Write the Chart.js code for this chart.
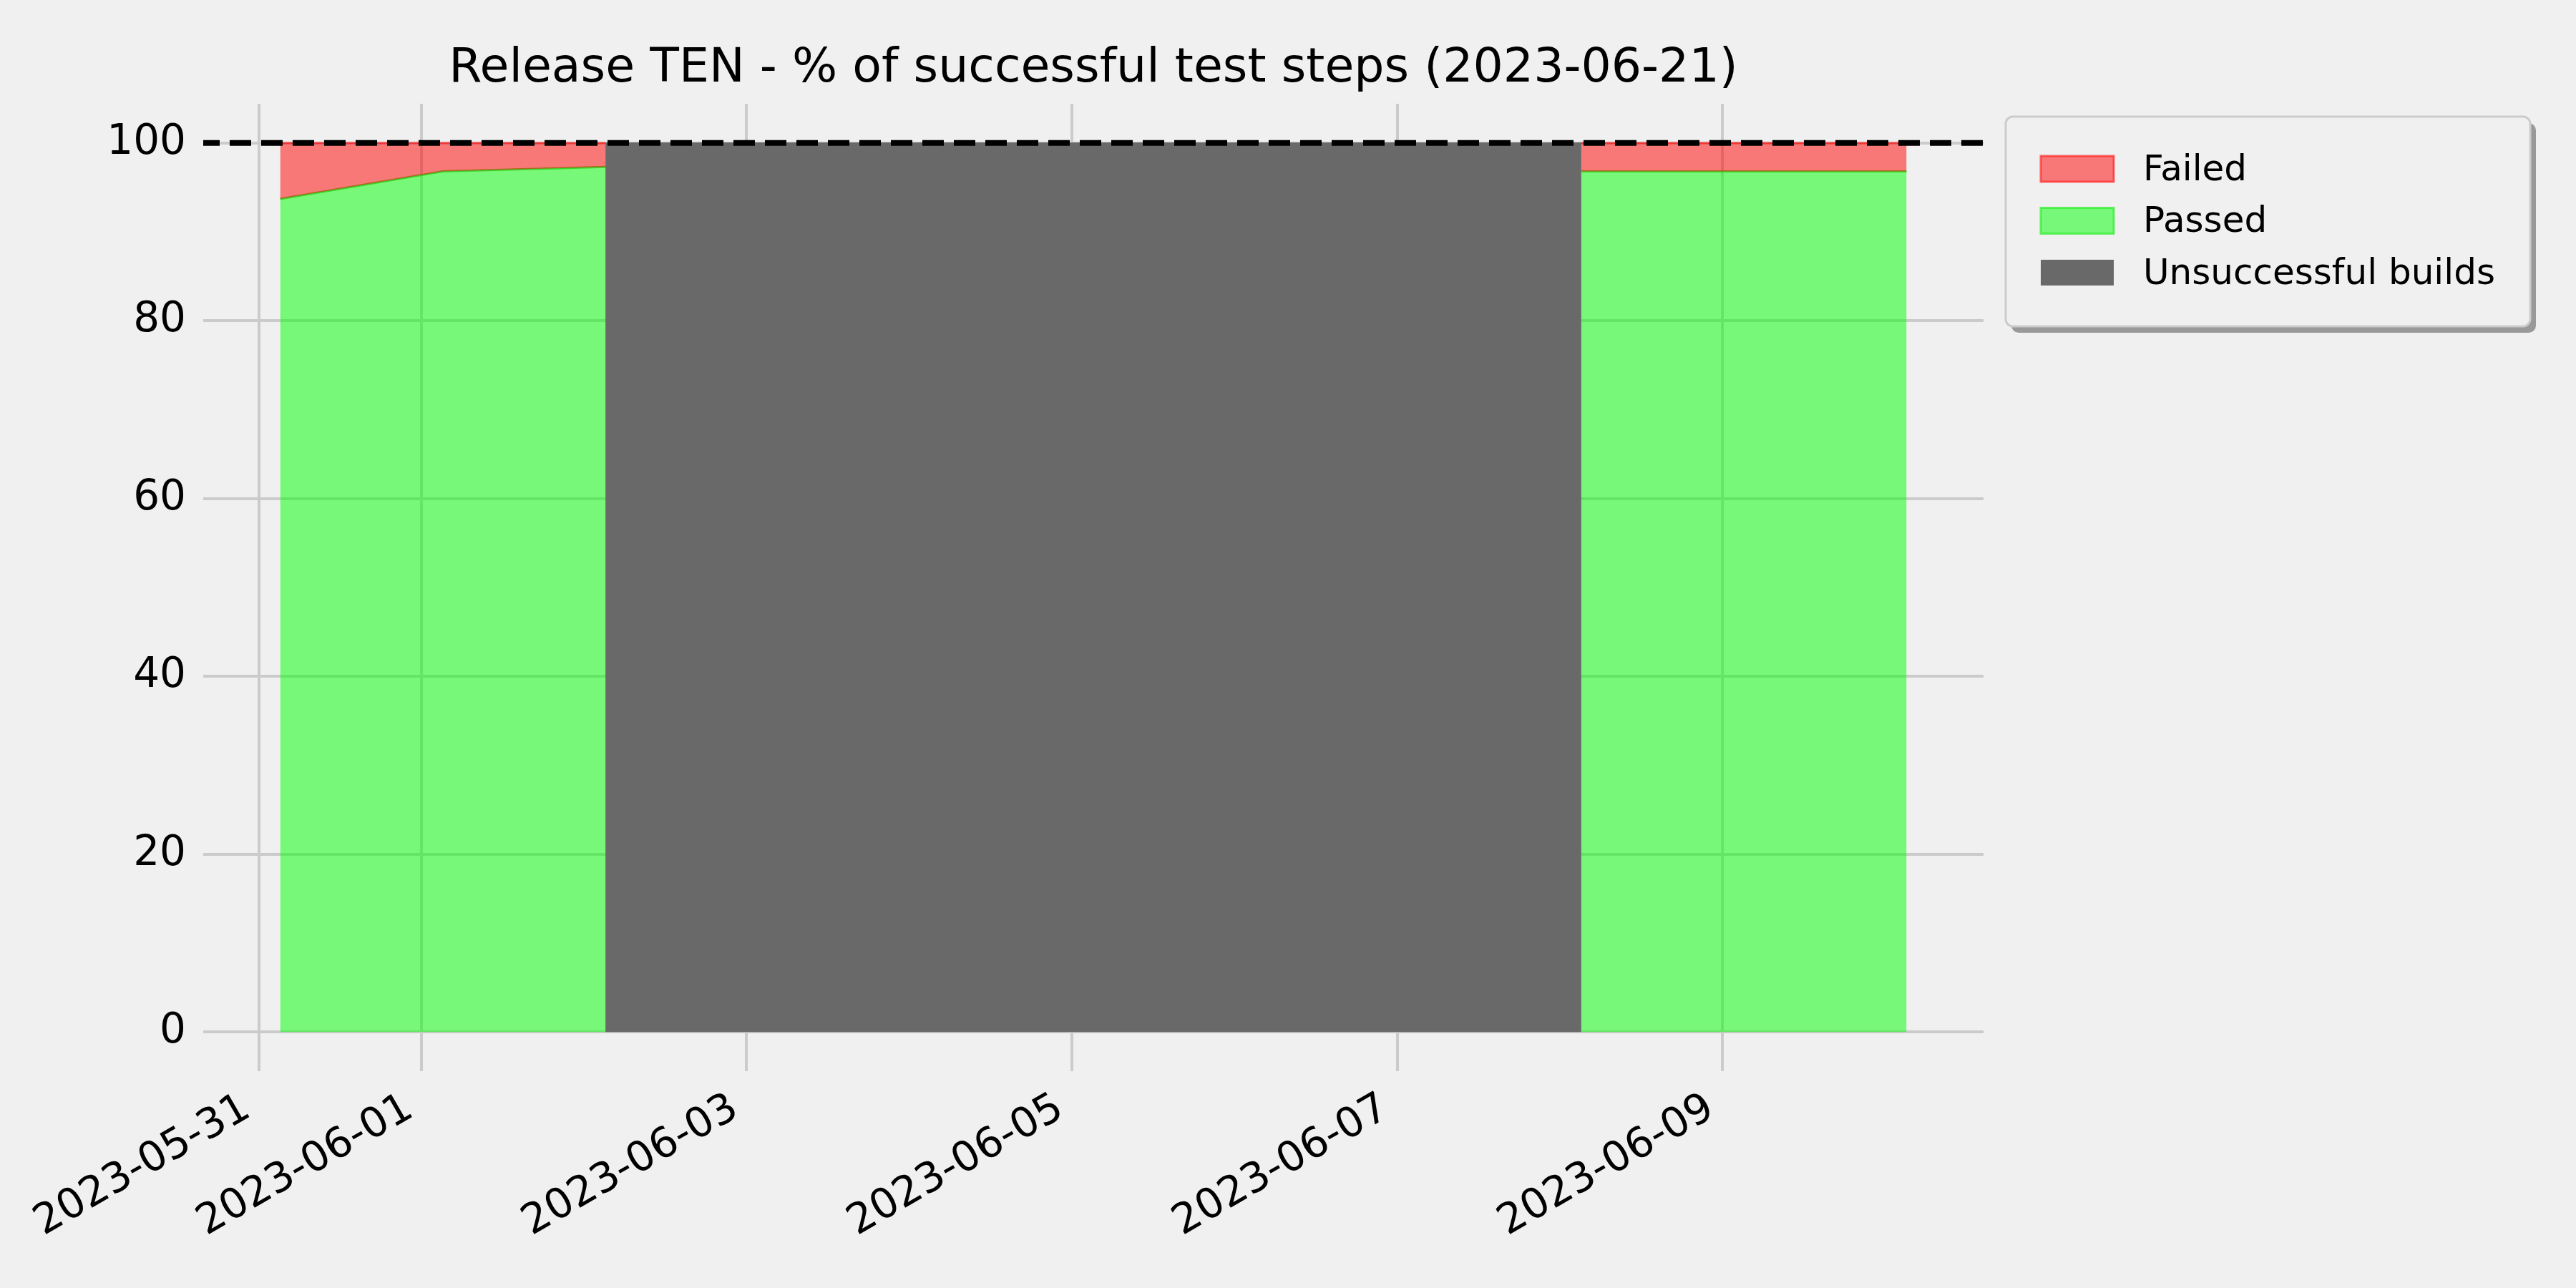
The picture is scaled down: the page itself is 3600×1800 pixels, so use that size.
<!DOCTYPE html>
<html>
<head>
<meta charset="utf-8">
<script src="https://cdn.jsdelivr.net/npm/chart.js@4.4.0/dist/chart.umd.min.js"></script>
<style>
  html, body { margin: 0; padding: 0; background: #f0f0f0; }
</style>
</head>
<body>
<canvas id="chart" width="3600" height="1800"></canvas>
<script>
// one build per day, around 03:10
const buildDates = [
  "2023-05-31T03:10", "2023-06-01T03:10", "2023-06-02T03:10", "2023-06-03T03:10",
  "2023-06-04T03:10", "2023-06-05T03:10", "2023-06-06T03:10", "2023-06-07T03:10",
  "2023-06-08T03:10", "2023-06-09T03:10", "2023-06-10T03:10"
];
const passed = [93.7, 96.8, 97.3, null, null, null, null, null, 96.8, 96.8, 96.8];
const failed = [6.3, 3.2, 2.7, null, null, null, null, null, 3.2, 3.2, 3.2];
const unsuccessful = [null, null, 100, 100, 100, 100, 100, 100, 100, null, null];

const xTickLabels = ["2023-05-31", "2023-06-01", "2023-06-03", "2023-06-05", "2023-06-07", "2023-06-09"];
const yTickValues = [0, 20, 40, 60, 80, 100];
const targetLine = 100;
const xRange = ["2023-05-30T15:49", "2023-06-10T14:31"];
const yRange = [-4.4, 104.4];

const FONT = "DejaVu Sans";
const toMs = s => Date.parse(s + ":00Z");
const xTickMs = xTickLabels.map(l => toMs(l + "T00:00"));
const xMin = toMs(xRange[0]);
const xMax = toMs(xRange[1]);

const pts = vals => buildDates.map((d, i) => ({ x: toMs(d), y: vals[i] }));
const failedTop = passed.map((p, i) => (p == null ? null : p + failed[i]));

// legend with frame and shadow, drawn to the right of the plot
const legendBox = {
  id: "legendBox",
  afterDraw(chart) {
    const ctx = chart.ctx;
    const area = chart.chartArea;
    const left = area.right + 31, top = area.top + 18, w = 733, h = 293, r = 10;
    ctx.save();
    ctx.fillStyle = "#999999";
    ctx.beginPath();
    ctx.roundRect(left + 8, top + 9, w, h, r);
    ctx.fill();
    ctx.fillStyle = "#f0f0f0";
    ctx.strokeStyle = "#cccccc";
    ctx.lineWidth = 3;
    ctx.beginPath();
    ctx.roundRect(left, top, w, h, r);
    ctx.fill();
    ctx.stroke();

    const items = chart.data.datasets.filter(d => d.label);
    items.forEach((ds, i) => {
      const cy = top + 73 + i * 72.5;
      ctx.fillStyle = ds.backgroundColor;
      ctx.fillRect(left + 49, cy - 18, 102, 36);
      if (ds.legendEdge) {
        ctx.strokeStyle = ds.legendEdge;
        ctx.lineWidth = 3;
        ctx.strokeRect(left + 49, cy - 18, 102, 36);
      }
      ctx.fillStyle = "#000";
      ctx.font = "50px '" + FONT + "'";
      ctx.textBaseline = "middle";
      ctx.textAlign = "left";
      ctx.fillText(ds.label, left + 192, cy + 3);
    });
    ctx.restore();
  }
};

new Chart(document.getElementById("chart"), {
  type: "line",
  data: {
    datasets: [
      {
        label: "Failed",
        data: pts(failedTop),
        backgroundColor: "rgba(255,0,0,0.5)",
        borderColor: "rgba(255,0,0,0.5)",
        legendEdge: "rgba(255,40,40,0.7)",
        borderWidth: 3,
        fill: "+1",
        order: 2
      },
      {
        label: "Passed",
        data: pts(passed),
        backgroundColor: "rgba(0,255,0,0.5)",
        borderColor: "rgba(40,205,20,0.8)",
        legendEdge: "rgba(40,240,40,0.7)",
        borderWidth: 3,
        fill: "origin",
        order: 3
      },
      {
        label: "Unsuccessful builds",
        data: pts(unsuccessful),
        backgroundColor: "#696969",
        borderColor: "#696969",
        borderWidth: 1,
        fill: "origin",
        order: 1
      },
      {
        label: "",
        data: [{ x: xMin, y: targetLine }, { x: xMax, y: targetLine }],
        borderColor: "#000",
        borderWidth: 8,
        borderDash: [30, 14],
        borderDashOffset: 7,
        fill: false,
        order: 0
      }
    ]
  },
  options: {
    responsive: false,
    animation: false,
    devicePixelRatio: 1,
    elements: { point: { radius: 0 }, line: { tension: 0 } },
    layout: { padding: { left: 0, right: 828, top: 0, bottom: 0 } },
    plugins: {
      legend: { display: false },
      tooltip: { enabled: false },
      title: {
        display: true,
        text: "Release TEN - % of successful test steps (2023-06-21)",
        fullSize: false,
        color: "#000",
        font: { family: FONT, size: 66.5, weight: "normal" },
        padding: { top: 57, bottom: 8.2 }
      }
    },
    scales: {
      x: {
        type: "linear",
        min: xMin,
        max: xMax,
        afterBuildTicks: s => { s.ticks = xTickMs.map(v => ({ value: v })); },
        afterFit: s => { s.height = 303; },
        ticks: {
          autoSkip: false,
          minRotation: 30,
          maxRotation: 30,
          padding: 18,
          labelOffset: -16,
          color: "#000",
          font: { family: FONT, size: 58 },
          callback: v => xTickLabels[xTickMs.indexOf(v)]
        },
        grid: { color: "#cbcbcb", lineWidth: 4, drawTicks: false },
        border: { display: false }
      },
      y: {
        min: yRange[0],
        max: yRange[1],
        afterBuildTicks: s => { s.ticks = yTickValues.map(v => ({ value: v })); },
        afterFit: s => { s.width = 284; },
        ticks: {
          padding: 24,
          color: "#000",
          font: { family: FONT, size: 58 }
        },
        grid: { color: "#cbcbcb", lineWidth: 4, drawTicks: false },
        border: { display: false }
      }
    }
  },
  plugins: [legendBox]
});
</script>
</body>
</html>
